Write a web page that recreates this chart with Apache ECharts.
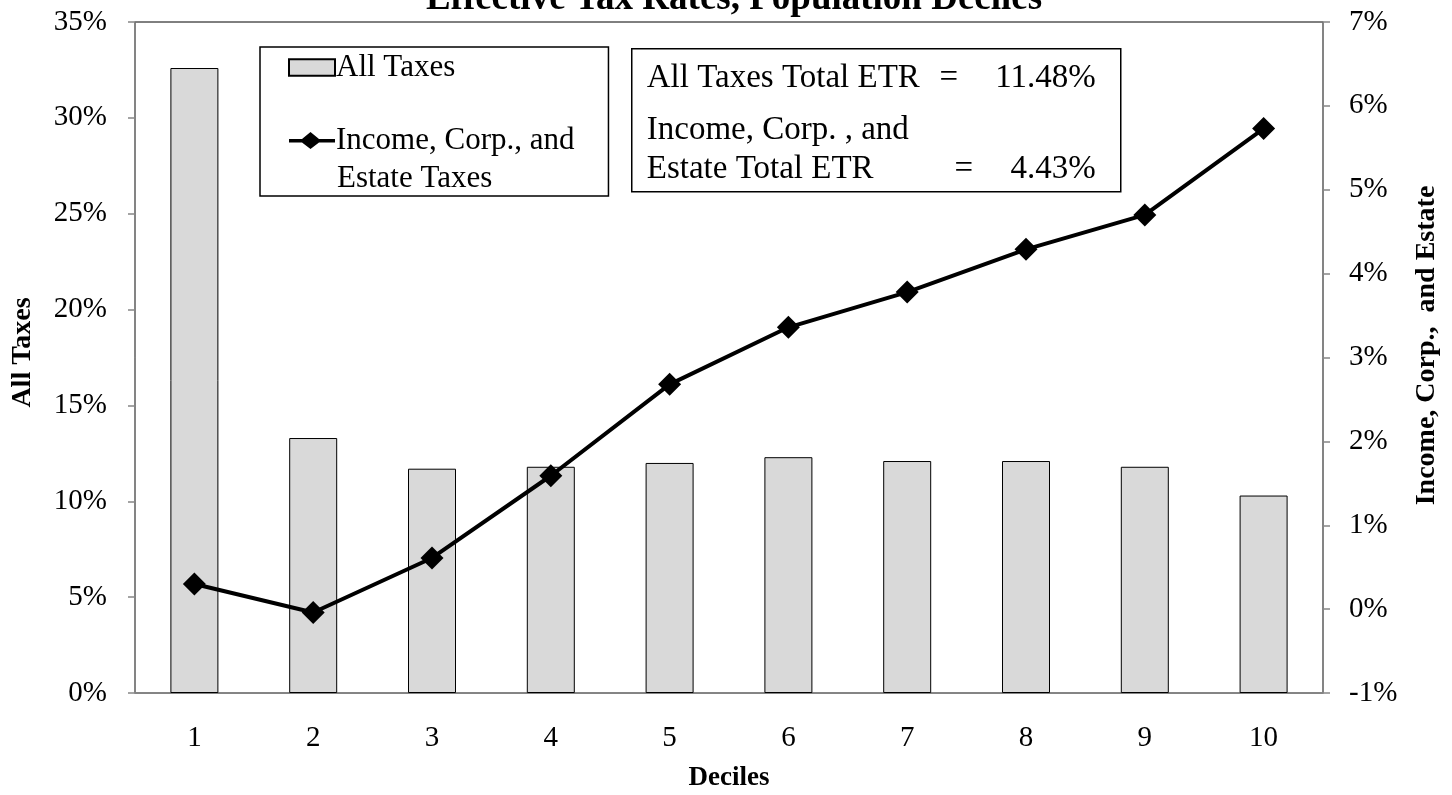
<!DOCTYPE html>
<html>
<head>
<meta charset="utf-8">
<script src="https://cdn.jsdelivr.net/npm/echarts@6/dist/echarts.min.js"></script>
<style>
  html, body { margin: 0; padding: 0; background: #fff; }
  #chart { width: 1452px; height: 795px; }
</style>
</head>
<body>
<div id="chart"></div>
<script>
// 数据
var deciles = ["1", "2", "3", "4", "5", "6", "7", "8", "9", "10"];
var allTaxes = [32.6, 13.3, 11.7, 11.8, 12.0, 12.3, 12.1, 12.1, 11.8, 10.3];
var incomeCorpEstate = [0.30, -0.04, 0.61, 1.59, 2.68, 3.36, 3.78, 4.29, 4.70, 5.73];
var summaryLines = [
  ["All Taxes Total ETR", "11.48%"],
  ["Estate Total ETR", "4.43%"]
];

var serif = "Liberation Serif";
var boxFont = "33px " + serif;
var myChart = echarts.init(document.getElementById("chart"));

// 文字框里的一行
function boxText(x, y, text, align) {
  return {
    type: "text",
    x: x,
    y: y,
    style: { text: text, font: boxFont, fill: "#000", textAlign: align || "left", textVerticalAlign: "middle" }
  };
}

var option = {
  animation: false,
  backgroundColor: "#fff",
  title: {
    text: "Effective Tax Rates, Population Deciles",
    left: 729,
    top: -24,
    textAlign: "center",
    textStyle: { fontFamily: serif, fontSize: 37, fontWeight: "bold", color: "#000" }
  },
  grid: {
    left: 135,
    right: 129,
    top: 22,
    bottom: 102,
    outerBoundsMode: "none",
    containLabel: false,
    show: true,
    borderColor: "#000",
    borderWidth: 1
  },
  legend: {
    orient: "vertical",
    left: 260,
    top: 47,
    padding: [5, 34, 40, 28],
    itemGap: 42,
    itemWidth: 46,
    itemHeight: 17,
    borderColor: "#000",
    borderWidth: 1.5,
    textStyle: { fontFamily: serif, fontSize: 31, color: "#000", padding: [0, 0, 0, -4] },
    formatter: function (name) {
      return name === "Income" ? "Income, Corp., and" : name;
    },
    data: [
      { name: "All Taxes", icon: "path://M2,1 L44,1 L44,16 L2,16 Z" },
      { name: "Income", icon: "path://M0,7 L13,7 L21.5,0 L30,7 L46,7 L46,10.5 L30,10.5 L21.5,17 L13,10.5 L0,10.5 Z", itemStyle: { color: "#000", borderWidth: 0 } }
    ]
  },
  xAxis: {
    type: "category",
    data: deciles,
    name: "Deciles",
    nameLocation: "middle",
    nameGap: 72,
    nameTextStyle: { fontFamily: serif, fontSize: 27, fontWeight: "bold", color: "#000" },
    axisLine: { lineStyle: { color: "#868686", width: 1.5 } },
    axisTick: { length: 9, lineStyle: { color: "#868686", width: 1.5 } },
    axisLabel: { fontFamily: serif, fontSize: 29, color: "#000", margin: 31 }
  },
  yAxis: [
    {
      type: "value",
      min: 0,
      max: 35,
      interval: 5,
      name: "All Taxes",
      nameLocation: "middle",
      nameGap: 98,
      nameTextStyle: { fontFamily: serif, fontSize: 28, fontWeight: "bold", color: "#000", padding: [0, 0, 0, 10] },
      splitLine: { show: false },
      axisLine: { show: true, lineStyle: { color: "#868686", width: 1.5 } },
      axisTick: { show: true, length: 7, lineStyle: { color: "#868686", width: 1.5 } },
      axisLabel: { fontFamily: serif, fontSize: 29, color: "#000", margin: 28, formatter: "{value}%" }
    },
    {
      type: "value",
      min: -1,
      max: 7,
      interval: 1,
      position: "right",
      name: "Income, Corp.,  and Estate",
      nameLocation: "middle",
      nameGap: 90,
      nameRotate: 90,
      nameTextStyle: { fontFamily: serif, fontSize: 28, fontWeight: "bold", color: "#000", padding: [0, 0, 0, 24] },
      splitLine: { show: false },
      axisLine: { show: true, lineStyle: { color: "#868686", width: 1.5 } },
      axisTick: { show: true, length: 7, lineStyle: { color: "#868686", width: 1.5 } },
      axisLabel: { fontFamily: serif, fontSize: 29, color: "#000", margin: 26, formatter: "{value}%" }
    }
  ],
  series: [
    {
      name: "All Taxes",
      type: "bar",
      yAxisIndex: 0,
      barWidth: 48,
      data: allTaxes,
      itemStyle: { color: "#d9d9d9", borderColor: "#000", borderWidth: 1 }
    },
    {
      name: "Income",
      type: "line",
      yAxisIndex: 1,
      data: incomeCorpEstate,
      symbol: "diamond",
      symbolSize: 23,
      lineStyle: { color: "#000", width: 4 },
      itemStyle: { color: "#000" }
    }
  ],
  graphic: [
    {
      type: "text",
      left: 337,
      top: 163,
      style: { text: "Estate Taxes", font: "31px " + serif, fill: "#000" }
    },
    {
      type: "group",
      left: 631,
      top: 48,
      children: [
        {
          type: "rect",
          shape: { x: 0, y: 0, width: 489, height: 143 },
          style: { fill: "#fff", stroke: "#000", lineWidth: 1.5 }
        },
        boxText(15, 30, summaryLines[0][0]),
        boxText(317, 30, "=", "center"),
        boxText(464, 30, summaryLines[0][1], "right"),
        boxText(15, 82, "Income, Corp. , and"),
        boxText(15, 121, summaryLines[1][0]),
        boxText(332, 121, "=", "center"),
        boxText(464, 121, summaryLines[1][1], "right")
      ]
    }
  ]
};

myChart.setOption(option);
window.addEventListener("resize", function () {
  myChart.resize();
});
</script>
</body>
</html>
